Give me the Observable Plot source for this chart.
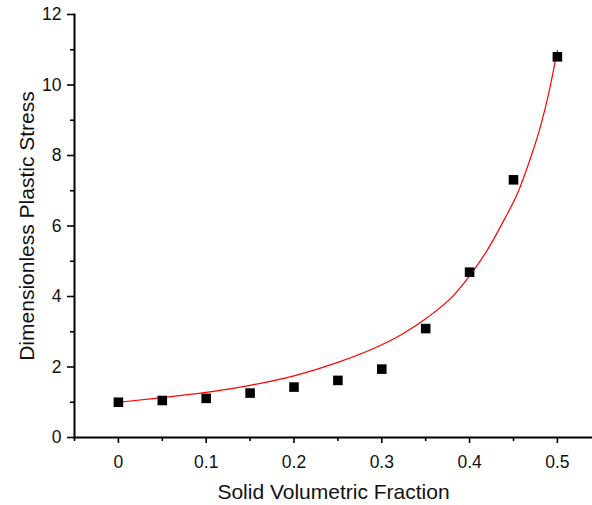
<!DOCTYPE html>
<html>
<head>
<meta charset="utf-8">
<script src="https://cdn.jsdelivr.net/npm/d3@7"></script>
<script src="https://cdn.jsdelivr.net/npm/@observablehq/plot@0.6"></script>
<style>
  html, body { margin: 0; padding: 0; background: #fff; }
  #chart svg { display: block; }
</style>
</head>
<body>
<div id="chart"></div>
<script>
// Measured points
const fraction = [0, 0.05, 0.1, 0.15, 0.2, 0.25, 0.3, 0.35, 0.4, 0.45, 0.5];
const stress = [1.0, 1.05, 1.11, 1.26, 1.43, 1.62, 1.94, 3.09, 4.69, 7.31, 10.80];

// Fitted curve
const fitX = [0, 0.05, 0.1, 0.15, 0.2, 0.25, 0.3, 0.325, 0.35, 0.382, 0.401, 0.42, 0.439, 0.456, 0.469, 0.481, 0.49, 0.5];
const fitY = [1.0, 1.13, 1.28, 1.48, 1.75, 2.13, 2.63, 2.96, 3.37, 4.04, 4.62, 5.31, 6.16, 7.01, 7.90, 8.85, 9.75, 10.98];

// Ticks
const xMajor = [0, 0.1, 0.2, 0.3, 0.4, 0.5];
const xMajorLabels = ["0", "0.1", "0.2", "0.3", "0.4", "0.5"];
const xMinor = [-0.05, 0.05, 0.15, 0.25, 0.35, 0.45];
const yMajor = [0, 2, 4, 6, 8, 10, 12];
const yMinor = [1, 3, 5, 7, 9, 11];

const xTitle = "Solid Volumetric Fraction";
const yTitle = "Dimensionless Plastic Stress";

const points = fraction.map((x, i) => ({x, y: stress[i]}));
const fit = fitX.map((x, i) => ({x, y: fitY[i]}));

const font = "Arial, 'Liberation Sans', sans-serif";
const textColor = "#111";

const chart = Plot.plot({
  width: 592,
  height: 505,
  marginLeft: 74,
  marginRight: 0,
  marginTop: 14,
  marginBottom: 68,
  style: {fontFamily: font, background: "#fff", color: textColor},
  x: {domain: [-0.05, 0.54]},
  y: {domain: [0, 12]},
  marks: [
    Plot.line(fit, {x: "x", y: "y", stroke: "#ff0000", strokeWidth: 1.2, curve: "monotone-x"}),
    Plot.dot(points, {x: "x", y: "y", symbol: "square", r: 5.4, fill: "#000", stroke: "none"}),
    Plot.axisX({ticks: xMajor, tickSize: 6, tickPadding: 12, strokeWidth: 1.6, stroke: "#000",
      tickFormat: (d) => xMajorLabels[xMajor.indexOf(d)], fontSize: 17.5, fill: textColor, label: null}),
    Plot.axisX({ticks: xMinor, tickSize: 4, strokeWidth: 1.6, stroke: "#000", text: null, label: null}),
    Plot.axisY({ticks: yMajor, tickSize: 7, tickPadding: 6, strokeWidth: 1.6, stroke: "#000",
      tickFormat: (d) => String(d), fontSize: 17.5, fill: textColor, label: null}),
    Plot.axisY({ticks: yMinor, tickSize: 4, strokeWidth: 1.6, stroke: "#000", text: null, label: null}),
    Plot.frame({anchor: "bottom", stroke: "#000", strokeWidth: 2}),
    Plot.frame({anchor: "left", stroke: "#000", strokeWidth: 2}),
    Plot.text([xTitle], {frameAnchor: "bottom", dy: 55, fontSize: 21, lineAnchor: "middle", textAnchor: "middle", fill: textColor}),
    Plot.text([yTitle], {frameAnchor: "left", dx: -47, rotate: -90, fontSize: 21, lineAnchor: "middle", textAnchor: "middle", fill: textColor})
  ]
});

document.getElementById("chart").appendChild(chart);
</script>
</body>
</html>
